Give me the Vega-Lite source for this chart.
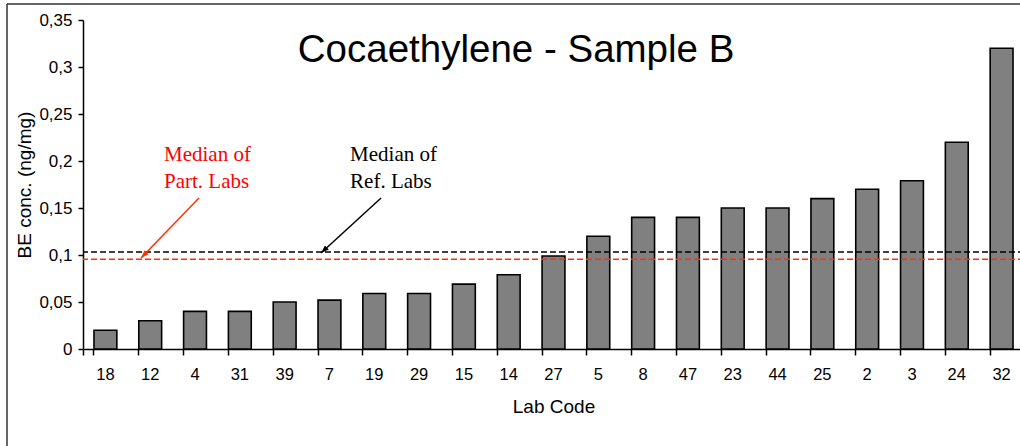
{
  "$schema": "https://vega.github.io/schema/vega-lite/v6.json",
  "width": 941,
  "height": 329,
  "autosize": {"type": "none"},
  "padding": {"left": 83, "top": 20, "right": 0, "bottom": 97},
  "background": "white",
  "config": {"view": {"stroke": null}, "font": "Liberation Sans"},
  "datasets": {
    "bars": [
      {"lab": "18", "value": 0.02},
      {"lab": "12", "value": 0.03},
      {"lab": "4", "value": 0.04},
      {"lab": "31", "value": 0.04},
      {"lab": "39", "value": 0.05},
      {"lab": "7", "value": 0.052},
      {"lab": "19", "value": 0.059},
      {"lab": "29", "value": 0.059},
      {"lab": "15", "value": 0.069},
      {"lab": "14", "value": 0.079},
      {"lab": "27", "value": 0.099},
      {"lab": "5", "value": 0.12},
      {"lab": "8", "value": 0.14},
      {"lab": "47", "value": 0.14},
      {"lab": "23", "value": 0.15},
      {"lab": "44", "value": 0.15},
      {"lab": "25", "value": 0.16},
      {"lab": "2", "value": 0.17},
      {"lab": "3", "value": 0.179},
      {"lab": "24", "value": 0.22},
      {"lab": "32", "value": 0.32}
    ],
    "medians": [
      {"group": "Part", "value": 0.0955},
      {"group": "Ref", "value": 0.1032}
    ],
    "notes": [
      {"group": "Part", "text": "Median of", "x": 1.808, "value": 0.2},
      {"group": "Part", "text": "Part. Labs", "x": 1.808, "value": 0.1713},
      {"group": "Ref", "text": "Median of", "x": 5.96, "value": 0.2},
      {"group": "Ref", "text": "Ref. Labs", "x": 5.96, "value": 0.1713}
    ],
    "arrows": [
      {"group": "Part", "x": 2.589, "value": 0.1606, "x2": 1.295, "value2": 0.0968},
      {"group": "Ref", "x": 6.652, "value": 0.1606, "x2": 5.312, "value2": 0.1021}
    ],
    "titles": [
      {"text": "Cocaethylene - Sample B", "x": 9.665, "value": 0.3053}
    ],
    "frame": [
      {"x": -1.696, "x2": 21.2, "value": 0.367, "value2": 0.367},
      {"x": -1.696, "x2": -1.696, "value": 0.367, "value2": -0.11}
    ]
  },
  "layer": [
    {
      "data": {"name": "bars"},
      "mark": {"type": "bar", "fill": "#808080", "stroke": "#000000", "strokeWidth": 1.6},
      "encoding": {
        "x": {
          "field": "lab", "type": "nominal", "sort": null,
          "scale": {"paddingInner": 0.49, "paddingOuter": 0.245},
          "axis": {
            "title": "Lab Code", "titleFontSize": 19, "titleFontWeight": "normal", "titleColor": "#000000",
            "titlePadding": 15, "titleFont": "Liberation Sans",
            "labelAngle": 0, "labelFontSize": 16.5, "labelColor": "#000000", "labelPadding": 11,
            "labelFont": "Liberation Sans",
            "bandPosition": 0, "tickExtra": true, "tickSize": 6, "tickColor": "#000000", "tickWidth": 1.5,
            "domainColor": "#000000", "domainWidth": 1.5, "grid": false
          }
        },
        "y": {
          "field": "value", "type": "quantitative",
          "scale": {"domain": [0, 0.35], "nice": false, "zero": true},
          "axis": {
            "title": "BE conc. (ng/mg)", "titleFontSize": 19, "titleFontWeight": "normal", "titleColor": "#000000",
            "titlePadding": 4, "titleFont": "Liberation Sans",
            "values": [0, 0.05, 0.1, 0.15, 0.2, 0.25, 0.3, 0.35],
            "labelExpr": "replace(format(datum.value, '~g'), '.', ',')",
            "labelFontSize": 17, "labelColor": "#000000", "labelPadding": 6, "labelFont": "Liberation Sans",
            "tickSize": 5, "tickColor": "#000000", "tickWidth": 1.5,
            "domainColor": "#000000", "domainWidth": 1.5, "grid": false
          }
        }
      }
    },
    {
      "data": {"name": "medians"},
      "mark": {"type": "rule", "strokeDash": [6, 3], "strokeWidth": 1.5},
      "encoding": {
        "y": {"field": "value", "type": "quantitative"},
        "color": {"field": "group", "type": "nominal", "scale": {"domain": ["Part", "Ref"], "range": ["#FF3300", "#000000"]}, "legend": null}
      }
    },
    {
      "layer": [
        {
          "data": {"name": "frame"},
          "mark": {"type": "rule", "color": "#333333", "strokeWidth": 1.5},
          "encoding": {
            "x": {"field": "x", "type": "quantitative", "scale": {"domain": [0, 21], "nice": false, "zero": false}, "axis": null},
            "x2": {"field": "x2"},
            "y": {"field": "value", "type": "quantitative"},
            "y2": {"field": "value2"}
          }
        },
        {
          "data": {"name": "titles"},
          "mark": {"type": "text", "fontSize": 38.5, "font": "Liberation Sans", "align": "center", "baseline": "alphabetic", "color": "#000000"},
          "encoding": {
            "x": {"field": "x", "type": "quantitative", "axis": null},
            "y": {"field": "value", "type": "quantitative"},
            "text": {"field": "text"}
          }
        },
        {
          "data": {"name": "notes"},
          "mark": {"type": "text", "fontSize": 21, "font": "Liberation Serif", "align": "left", "baseline": "alphabetic"},
          "encoding": {
            "x": {"field": "x", "type": "quantitative", "axis": null},
            "y": {"field": "value", "type": "quantitative"},
            "text": {"field": "text"},
            "color": {"field": "group", "type": "nominal", "scale": {"domain": ["Part", "Ref"], "range": ["#FF0000", "#000000"]}, "legend": null}
          }
        },
        {
          "data": {"name": "arrows"},
          "transform": [{"filter": "datum.group == 'Part'"}],
          "mark": {"type": "rule", "strokeWidth": 1.5, "color": "#FF3300"},
          "encoding": {
            "x": {"field": "x", "type": "quantitative", "axis": null},
            "x2": {"field": "x2"},
            "y": {"field": "value", "type": "quantitative"},
            "y2": {"field": "value2"}
          }
        },
        {
          "data": {"name": "arrows"},
          "transform": [{"filter": "datum.group == 'Ref'"}],
          "mark": {"type": "rule", "strokeWidth": 1.5, "color": "#000000"},
          "encoding": {
            "x": {"field": "x", "type": "quantitative", "axis": null},
            "x2": {"field": "x2"},
            "y": {"field": "value", "type": "quantitative"},
            "y2": {"field": "value2"}
          }
        },
        {
          "data": {"name": "arrows"},
          "transform": [{"filter": "datum.group == 'Part'"}],
          "mark": {"type": "point", "shape": "M0,0L-0.7,2L0.7,2Z", "filled": true, "size": 64, "angle": 224, "color": "#FF3300", "opacity": 1},
          "encoding": {
            "x": {"field": "x2", "type": "quantitative", "axis": null},
            "y": {"field": "value2", "type": "quantitative"}
          }
        },
        {
          "data": {"name": "arrows"},
          "transform": [{"filter": "datum.group == 'Ref'"}],
          "mark": {"type": "point", "shape": "M0,0L-0.7,2L0.7,2Z", "filled": true, "size": 64, "angle": 227, "color": "#000000", "opacity": 1},
          "encoding": {
            "x": {"field": "x2", "type": "quantitative", "axis": null},
            "y": {"field": "value2", "type": "quantitative"}
          }
        }
      ],
      "resolve": {"scale": {"x": "shared"}}
    }
  ],
  "resolve": {"scale": {"x": "independent", "color": "independent"}}
}
